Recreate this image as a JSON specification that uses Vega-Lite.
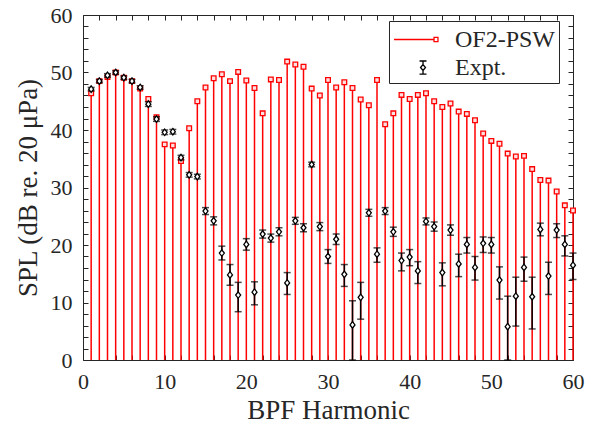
{
  "$schema": "https://vega.github.io/schema/vega-lite/v6.json",
  "width": 490,
  "height": 345,
  "autosize": {"type": "none"},
  "padding": {"left": 83, "top": 15, "right": 23, "bottom": 71},
  "background": "white",
  "datasets": {
    "spl": [
      {"h":1,"sim":46.4,"exp":47.1,"lo":46.8,"hi":47.4},
      {"h":2,"sim":48.5,"exp":48.5,"lo":48.2,"hi":48.8},
      {"h":3,"sim":49.2,"exp":49.5,"lo":49.2,"hi":49.8},
      {"h":4,"sim":50.0,"exp":50.0,"lo":49.7,"hi":50.3},
      {"h":5,"sim":49.1,"exp":49.1,"lo":48.8,"hi":49.4},
      {"h":6,"sim":48.5,"exp":48.5,"lo":48.2,"hi":48.8},
      {"h":7,"sim":47.2,"exp":47.4,"lo":47.1,"hi":47.7},
      {"h":8,"sim":45.4,"exp":44.5,"lo":44.1,"hi":44.9},
      {"h":9,"sim":42.2,"exp":41.9,"lo":41.5,"hi":42.3},
      {"h":10,"sim":37.5,"exp":39.6,"lo":39.2,"hi":40.0},
      {"h":11,"sim":37.3,"exp":39.7,"lo":39.3,"hi":40.1},
      {"h":12,"sim":34.6,"exp":35.2,"lo":34.8,"hi":35.6},
      {"h":13,"sim":40.3,"exp":32.2,"lo":31.8,"hi":32.6},
      {"h":14,"sim":45.0,"exp":31.9,"lo":31.5,"hi":32.3},
      {"h":15,"sim":47.4,"exp":25.9,"lo":25.3,"hi":26.5},
      {"h":16,"sim":49.0,"exp":24.2,"lo":23.5,"hi":24.9},
      {"h":17,"sim":49.7,"exp":18.6,"lo":17.4,"hi":19.8},
      {"h":18,"sim":48.5,"exp":14.8,"lo":13.0,"hi":16.6},
      {"h":19,"sim":50.1,"exp":11.3,"lo":8.4,"hi":13.5},
      {"h":20,"sim":48.6,"exp":20.1,"lo":19.1,"hi":21.1},
      {"h":21,"sim":47.3,"exp":11.8,"lo":9.6,"hi":13.6},
      {"h":22,"sim":42.9,"exp":21.9,"lo":21.2,"hi":22.6},
      {"h":23,"sim":48.8,"exp":21.2,"lo":20.5,"hi":21.9},
      {"h":24,"sim":48.7,"exp":22.3,"lo":21.6,"hi":23.0},
      {"h":25,"sim":51.9,"exp":13.4,"lo":11.4,"hi":15.2},
      {"h":26,"sim":51.4,"exp":24.2,"lo":23.6,"hi":24.8},
      {"h":27,"sim":51.0,"exp":23.0,"lo":22.3,"hi":23.7},
      {"h":28,"sim":47.2,"exp":34.0,"lo":33.6,"hi":34.4},
      {"h":29,"sim":46.0,"exp":23.2,"lo":22.5,"hi":23.9},
      {"h":30,"sim":48.7,"exp":18.0,"lo":16.8,"hi":19.2},
      {"h":31,"sim":47.4,"exp":21.0,"lo":20.1,"hi":21.9},
      {"h":32,"sim":48.3,"exp":14.9,"lo":12.8,"hi":16.6},
      {"h":33,"sim":47.3,"exp":6.1,"lo":0,"hi":10.3},
      {"h":34,"sim":45.3,"exp":10.9,"lo":7.1,"hi":13.5},
      {"h":35,"sim":44.3,"exp":25.6,"lo":25.0,"hi":26.2},
      {"h":36,"sim":48.7,"exp":18.4,"lo":17.0,"hi":19.5},
      {"h":37,"sim":41.0,"exp":25.9,"lo":25.3,"hi":26.5},
      {"h":38,"sim":42.9,"exp":22.3,"lo":21.5,"hi":23.1},
      {"h":39,"sim":46.1,"exp":17.3,"lo":15.5,"hi":18.6},
      {"h":40,"sim":45.4,"exp":17.9,"lo":16.4,"hi":19.2},
      {"h":41,"sim":46.1,"exp":15.5,"lo":13.3,"hi":17.1},
      {"h":42,"sim":46.4,"exp":24.1,"lo":23.5,"hi":24.7},
      {"h":43,"sim":45.0,"exp":23.2,"lo":22.4,"hi":24.0},
      {"h":44,"sim":44.0,"exp":15.2,"lo":12.9,"hi":16.9},
      {"h":45,"sim":44.6,"exp":22.6,"lo":21.7,"hi":23.5},
      {"h":46,"sim":43.2,"exp":16.7,"lo":14.5,"hi":18.4},
      {"h":47,"sim":42.8,"exp":20.1,"lo":18.6,"hi":21.3},
      {"h":48,"sim":41.7,"exp":16.1,"lo":13.9,"hi":18.0},
      {"h":49,"sim":39.4,"exp":20.3,"lo":18.7,"hi":21.4},
      {"h":50,"sim":38.1,"exp":20.1,"lo":18.6,"hi":21.3},
      {"h":51,"sim":37.6,"exp":13.9,"lo":10.6,"hi":16.2},
      {"h":52,"sim":35.9,"exp":5.8,"lo":0,"hi":11.1},
      {"h":53,"sim":35.4,"exp":11.1,"lo":5.9,"hi":14.4},
      {"h":54,"sim":35.5,"exp":16.1,"lo":13.7,"hi":17.9},
      {"h":55,"sim":33.2,"exp":11.0,"lo":5.4,"hi":14.4},
      {"h":56,"sim":31.3,"exp":22.7,"lo":21.6,"hi":23.8},
      {"h":57,"sim":31.2,"exp":14.6,"lo":11.4,"hi":17.0},
      {"h":58,"sim":29.3,"exp":22.6,"lo":21.3,"hi":23.7},
      {"h":59,"sim":26.9,"exp":20.1,"lo":18.1,"hi":21.6},
      {"h":60,"sim":26.0,"exp":16.5,"lo":14.0,"hi":18.6}
    ],
    "leg": [{"series":"OF2-PSW"},{"series":"Expt."}]
  },
  "layer": [
    {
      "data": {"name": "spl"},
      "mark": {"type": "rule", "color": "#ff0000", "strokeWidth": 1.5},
      "encoding": {
        "x": {"field": "h", "type": "quantitative", "scale": {"domain": [0, 60], "nice": false, "zero": false},
              "axis": {"orient": "bottom", "title": "BPF Harmonic", "values": [0,2,4,6,8,10,12,14,16,18,20,22,24,26,28,30,32,34,36,38,40,42,44,46,48,50,52,54,56,58,60],
                       "labelExpr": "datum.value % 10 === 0 ? datum.label : ''",
                       "tickSize": -5, "labelPadding": 16, "titlePadding": 5, "labelFlush": false}},
        "y": {"field": "sim", "type": "quantitative", "scale": {"domain": [0, 60], "nice": false},
              "axis": {"orient": "left", "title": "SPL (dB re. 20  μPa)", "values": [0,2,4,6,8,10,12,14,16,18,20,22,24,26,28,30,32,34,36,38,40,42,44,46,48,50,52,54,56,58,60],
                       "labelExpr": "datum.value % 10 === 0 ? datum.label : ''",
                       "tickSize": -5, "labelPadding": 16, "titlePadding": 8}},
        "y2": {"datum": 0}
      }
    },
    {
      "data": {"name": "spl"},
      "mark": {"type": "point", "shape": "square", "size": 22, "filled": false, "color": "#ff0000", "fill": "#ffe0e0", "fillOpacity": 1, "strokeWidth": 1.3, "opacity": 1},
      "encoding": {
        "x": {"field": "h", "type": "quantitative",
              "axis": {"orient": "top", "title": null, "labels": false, "values": [0,2,4,6,8,10,12,14,16,18,20,22,24,26,28,30,32,34,36,38,40,42,44,46,48,50,52,54,56,58,60],
                       "tickSize": -5}},
        "y": {"field": "sim", "type": "quantitative",
              "axis": {"orient": "right", "title": null, "labels": false, "values": [0,2,4,6,8,10,12,14,16,18,20,22,24,26,28,30,32,34,36,38,40,42,44,46,48,50,52,54,56,58,60],
                       "tickSize": -5}}
      }
    },
    {
      "data": {"name": "spl"},
      "mark": {"type": "rule", "color": "#000000", "strokeWidth": 1.5},
      "encoding": {
        "x": {"field": "h", "type": "quantitative", "axis": null},
        "y": {"field": "lo", "type": "quantitative", "axis": null},
        "y2": {"field": "hi"}
      }
    },
    {
      "data": {"name": "spl"},
      "mark": {"type": "tick", "orient": "horizontal", "color": "#000000", "size": 7, "thickness": 1.5},
      "encoding": {
        "x": {"field": "h", "type": "quantitative", "axis": null},
        "y": {"field": "lo", "type": "quantitative", "axis": null}
      }
    },
    {
      "data": {"name": "spl"},
      "mark": {"type": "tick", "orient": "horizontal", "color": "#000000", "size": 7, "thickness": 1.5},
      "encoding": {
        "x": {"field": "h", "type": "quantitative", "axis": null},
        "y": {"field": "hi", "type": "quantitative", "axis": null}
      }
    },
    {
      "data": {"name": "spl"},
      "mark": {"type": "point", "shape": "M0,-1.3L1,0L0,1.3L-1,0Z", "size": 25, "filled": false, "color": "#000000", "fill": "#ffffff", "fillOpacity": 1, "strokeWidth": 1.3, "opacity": 1},
      "encoding": {
        "x": {"field": "h", "type": "quantitative", "axis": null},
        "y": {"field": "exp", "type": "quantitative", "axis": null}
      }
    },
    {
      "data": {"name": "leg"},
      "mark": {"type": "point", "filled": false, "opacity": 0, "strokeWidth": 1.3},
      "encoding": {
        "x": {"datum": 30, "type": "quantitative", "axis": null},
        "y": {"datum": 30, "type": "quantitative", "axis": null},
        "color": {"field": "series", "type": "nominal",
                  "scale": {"domain": ["OF2-PSW", "Expt."], "range": ["#ff0000", "#000000"]},
                  "legend": {"title": null, "orient": "none", "legendX": 306, "legendY": 6}},
        "shape": {"field": "series", "type": "nominal",
                  "scale": {"domain": ["OF2-PSW", "Expt."],
                            "range": ["M-0.93,0H1.83M1.83,-0.14H2.1V0.14H1.83Z",
                                      "M1.07,-0.45V-0.2M1.07,0.2V0.45M0.83,-0.45H1.31M0.83,0.45H1.31M1.07,-0.2L1.24,0L1.07,0.2L0.9,0Z"]},
                  "legend": {"title": null, "orient": "none", "legendX": 306, "legendY": 6}}
      }
    }
  ],
  "resolve": {"axis": {"x": "independent", "y": "independent"}},
  "config": {
    "font": "Liberation Serif",
    "view": {"stroke": "#262626", "strokeWidth": 1},
    "axis": {"domain": false, "grid": false, "tickColor": "#262626", "tickWidth": 1,
             "labelColor": "#262626", "titleColor": "#262626", "labelFontSize": 22,
             "titleFontSize": 27, "titleFontWeight": "normal", "labelFont": "Liberation Serif", "titleFont": "Liberation Serif"},
    "legend": {"labelFont": "Liberation Serif", "labelFontSize": 24, "labelOffset": 32, "labelColor": "#262626",
               "fillColor": "#ffffff", "strokeColor": "#262626", "padding": 3, "rowPadding": 0,
               "symbolSize": 841, "symbolStrokeWidth": 1.3, "symbolOpacity": 1, "labelLimit": 300,
               "titlePadding": 0}
  }
}
